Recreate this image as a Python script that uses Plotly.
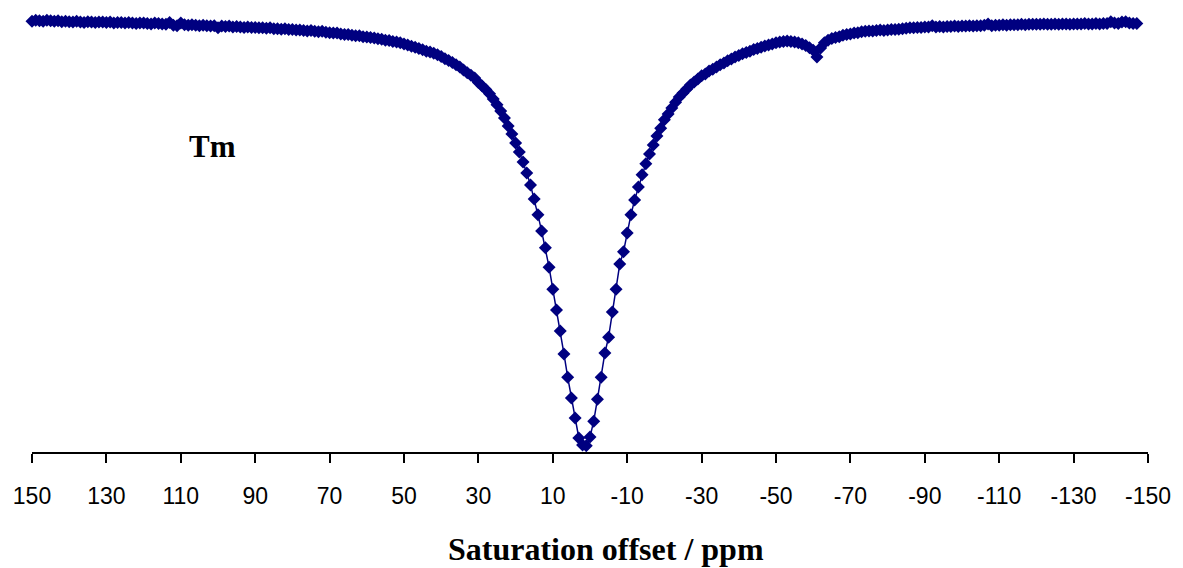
import plotly.graph_objects as go

# Saturation offsets (ppm), one per sample, from 150 down to -147
offsets = list(range(150, -148, -1))

# Normalised signal (%), one value per offset
signal = [
    97.9, 98.1, 98.0, 97.9, 98.1, 98.0, 97.9, 98.0, 97.8, 97.9,   # 150..141
    97.8, 97.7, 97.9, 97.7, 97.6, 97.8, 97.7, 97.6, 97.7, 97.7,   # 140..131
    97.6, 97.7, 97.5, 97.6, 97.6, 97.5, 97.6, 97.5, 97.4, 97.5,   # 130..121
    97.5, 97.4, 97.3, 97.5, 97.4, 97.3, 97.2, 97.6, 97.0, 96.9,   # 120..111
    97.5, 97.1, 97.0, 97.1, 97.0, 96.9, 97.0, 96.9, 96.8, 96.9,   # 110..101
    96.4, 96.8, 96.7, 96.8, 96.6, 96.7, 96.6, 96.5, 96.6, 96.5,   # 100..91
    96.5, 96.4, 96.4, 96.3, 96.4, 96.2, 96.2, 96.1, 96.2, 96.0,   # 90..81
    96.0, 95.9, 95.9, 95.8, 95.7, 95.8, 95.6, 95.5, 95.6, 95.4,   # 80..71
    95.3, 95.2, 95.2, 95.0, 94.9, 94.9, 94.7, 94.6, 94.6, 94.4,   # 70..61
    94.3, 94.2, 94.1, 93.9, 93.8, 93.6, 93.5, 93.3, 93.2, 93.0,   # 60..51
    92.7, 92.5, 92.2, 92.0, 91.7, 91.4, 91.1, 90.9, 90.6, 90.3,   # 50..41
    89.9, 89.4, 89.0, 88.5, 88.0, 87.5, 86.8, 86.2, 85.6, 85.0,   # 40..31
    84.0, 83.2, 82.4, 81.4, 80.2, 78.9, 77.5, 75.9, 74.1, 72.3,   # 30..21
    70.2, 68.2, 65.9, 63.4, 60.7, 57.5, 53.9, 50.2, 46.4, 42.0,   # 20..11
    37.0, 32.3, 27.5, 22.3, 17.0, 12.3, 7.7, 3.2, 1.6, 1.4,       # 10..1
    3.4, 7.0, 12.0, 17.0, 22.5, 26.1, 31.8, 37.0, 42.7, 45.5,     # 0..-9
    49.8, 53.9, 57.3, 60.2, 63.0, 65.5, 67.7, 69.8, 71.8, 73.6,   # -10..-19
    75.5, 76.8, 78.2, 79.5, 80.7, 81.6, 82.5, 83.4, 84.1, 84.8,   # -20..-29
    85.5, 85.9, 86.6, 87.0, 87.5, 88.0, 88.4, 88.9, 89.3, 89.8,   # -30..-39
    90.1, 90.5, 90.8, 91.1, 91.5, 91.7, 92.0, 92.3, 92.5, 92.7,   # -40..-49
    93.0, 93.2, 93.3, 93.4, 93.3, 93.2, 93.0, 92.7, 92.4, 91.9,   # -50..-59
    91.3, 89.8, 91.8, 93.0, 93.6, 94.0, 94.2, 94.4, 94.7, 94.9,   # -60..-69
    95.0, 95.2, 95.3, 95.5, 95.6, 95.7, 95.7, 95.8, 95.9, 95.8,   # -70..-79
    95.9, 96.0, 96.0, 96.1, 96.2, 96.3, 96.4, 96.4, 96.5, 96.5,   # -80..-89
    96.6, 96.6, 96.9, 96.6, 96.7, 96.6, 96.7, 96.7, 96.8, 96.7,   # -90..-99
    96.8, 96.8, 96.9, 96.8, 96.9, 96.9, 97.0, 97.3, 96.9, 97.0,   # -100..-109
    97.0, 97.1, 97.0, 97.1, 97.1, 97.1, 97.2, 97.1, 97.2, 97.2,   # -110..-119
    97.2, 97.2, 97.3, 97.2, 97.2, 97.3, 97.2, 97.3, 97.3, 97.2,   # -120..-129
    97.3, 97.3, 97.3, 97.4, 97.3, 97.3, 97.4, 97.3, 97.4, 97.4,   # -130..-139
    97.8, 97.5, 97.4, 97.7, 97.8, 97.5, 97.4, 97.4,               # -140..-147
]
assert len(offsets) == len(signal)

tick_values = [150, 130, 110, 90, 70, 50, 30, 10, -10, -30, -50, -70, -90, -110, -130, -150]
tick_labels = [str(v) for v in tick_values]

x_title = "Saturation offset / ppm"
label_text = "Tm"

navy = "#000080"

fig = go.Figure()
fig.add_trace(go.Scatter(
    x=offsets, y=signal, mode="lines+markers",
    line=dict(color=navy, width=1.5),
    marker=dict(symbol="diamond", size=10, color=navy, line=dict(width=0)),
    cliponaxis=False, showlegend=False, hoverinfo="skip",
))

fig.update_layout(
    width=1183, height=568,
    margin=dict(l=32, r=30, t=12, b=116),
    paper_bgcolor="white", plot_bgcolor="white",
    xaxis=dict(
        range=[150, -150], tickvals=tick_values, ticktext=tick_labels,
        ticks="outside", ticklen=9, tickwidth=2, tickcolor="black",
        showline=True, linewidth=2, linecolor="black",
        showgrid=False, zeroline=False, ticklabelstandoff=13,
        tickfont=dict(family="Liberation Sans, Arial", size=23, color="black"),
    ),
    yaxis=dict(range=[0, 100], visible=False, showgrid=False, zeroline=False),
    annotations=[
        dict(text="<b>" + x_title + "</b>", xref="paper", yref="paper",
             x=(609 - 32) / 1121, y=(452 - 549) / 440, xanchor="center", yanchor="middle",
             showarrow=False,
             font=dict(family="Liberation Serif, Times New Roman", size=32, color="black")),
        dict(text="<b>" + label_text + "</b>", xref="x", yref="y",
             x=101.5, y=69.5, xanchor="center", yanchor="middle", showarrow=False,
             font=dict(family="Liberation Serif, Times New Roman", size=31, color="black")),
    ],
)

fig.write_html("out.html")
